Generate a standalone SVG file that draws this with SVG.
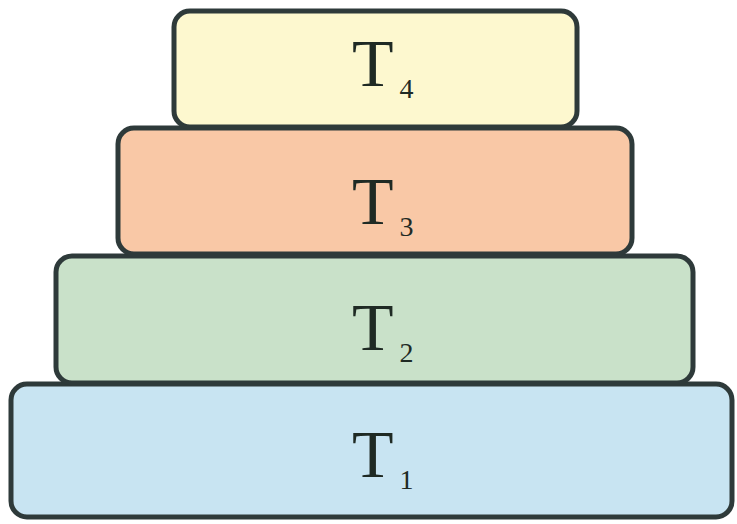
<svg xmlns="http://www.w3.org/2000/svg" width="737" height="524" viewBox="0 0 737 524">
<style>
.box{stroke:#2e3a3a;stroke-width:5}
.lbl{font-family:"Liberation Serif","Times New Roman",serif;font-size:68px;fill:#1f2a24}
.sub{font-size:28px}
</style>
<rect width="737" height="524" fill="#ffffff"/>
<g id="T1">
<rect class="box" x="11" y="384" width="721" height="133" rx="16" fill="#c8e4f2"/>
<text class="lbl" x="352" y="477">T<tspan class="sub" dx="6" dy="12">1</tspan></text>
</g>
<g id="T2">
<rect class="box" x="56" y="256" width="637" height="127" rx="16" fill="#c9e1c9"/>
<text class="lbl" x="352" y="350">T<tspan class="sub" dx="6" dy="12">2</tspan></text>
</g>
<g id="T3">
<rect class="box" x="118" y="128" width="514" height="126" rx="16" fill="#f9c8a6"/>
<text class="lbl" x="352" y="224">T<tspan class="sub" dx="6" dy="12">3</tspan></text>
</g>
<g id="T4">
<rect class="box" x="174" y="11" width="403" height="116" rx="16" fill="#fdf8cf"/>
<text class="lbl" x="352" y="86">T<tspan class="sub" dx="6" dy="12">4</tspan></text>
</g>
<g id="connectors"></g>
</svg>
